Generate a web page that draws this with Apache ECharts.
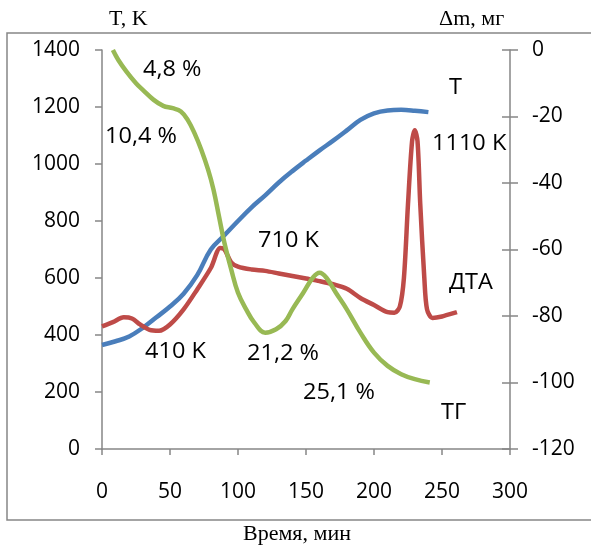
<!DOCTYPE html>
<html><head><meta charset="utf-8">
<script src="https://cdn.jsdelivr.net/npm/echarts@6/dist/echarts.min.js"></script>
<style>html,body{margin:0;padding:0;background:#fff}#c{width:591px;height:545px}</style>
</head><body><div id="c"></div>
<script>
// Temperature T, K (left axis)
const tTime = [0,10,20,30,40,50,60,70,80,90,100,110,120,130,140,150,160,170,180,190,200,210,220,230,240];
const tVals = [365,378,395,425,462,500,545,610,700,750,800,848,890,935,975,1012,1048,1082,1118,1155,1178,1188,1190,1187,1182];
// DTA (left axis scale)
const dtaTime = [0,8,16,22,28,35,42,50,60,70,80,87,90,95,100,110,120,130,140,150,160,170,180,190,200,210,215,219,222,225,228,230,232,234,237,239,243,250,261];
const dtaVals = [430,445,462,458,437,418,415,437,490,560,635,705,700,655,640,630,625,616,607,598,589,578,562,530,505,480,478,500,600,860,1080,1118,1080,860,600,490,460,465,480];
// TG, mg (right axis)
const tgTime = [8,12,18,25,30,38,45,52,58,63,68,73,78,82,86,90,95,100,106,112,120,128,135,140,148,155,160,165,172,180,190,200,210,220,230,241];
const tgVals = [0,-3,-6.5,-10,-12,-15,-16.8,-17.5,-18.5,-21,-25,-30,-36,-42,-50,-58,-66,-73,-78,-82,-85,-84,-81.5,-78,-73,-68.5,-67,-68.5,-73,-78,-85,-91,-95,-97.5,-99,-100];
const xTicks = [0,50,100,150,200,250,300];

const pair = (a,b)=>a.map((v,i)=>[v,b[i]]);
const gray = '#868686';
const F = 'Open Sans';
const chart = echarts.init(document.getElementById('c'));
const ann = (t,x,y)=>({type:'text',x:x,y:y,scaleX:1.12,style:{text:t,x:0,y:0,verticalAlign:'middle',font:'21px "Open Sans"',fill:'#000'}});
const serif = (t,x,y)=>({type:'text',x:x,y:y,style:{text:t,x:0,y:0,verticalAlign:'middle',font:'22px "Liberation Serif"',fill:'#000'}});
const plain = v=>String(v);
chart.setOption({
  animation:false,
  grid:{left:102,right:81,top:50,bottom:96},
  xAxis:{type:'value',min:0,max:300,interval:50,
    axisLine:{show:true,lineStyle:{color:gray,width:1.5}},
    axisTick:{show:true,length:6,lineStyle:{color:gray,width:1.5}},
    axisLabel:{margin:33,color:'#000',fontFamily:F,fontSize:21,formatter:plain},
    splitLine:{show:false}},
  yAxis:[
    {type:'value',min:0,max:1400,interval:200,position:'left',
     axisLine:{show:true,lineStyle:{color:gray,width:1.5}},
     axisTick:{show:true,length:7,lineStyle:{color:gray,width:1.5}},
     axisLabel:{margin:22,color:'#000',fontFamily:F,fontSize:21,formatter:plain},
     splitLine:{show:false}},
    {type:'value',min:-120,max:0,interval:20,position:'right',
     axisLine:{show:true,lineStyle:{color:gray,width:1.5}},
     axisTick:{show:true,length:8,lineStyle:{color:gray,width:1.5}},
     axisLabel:{margin:22,color:'#000',fontFamily:F,fontSize:21,formatter:plain},
     splitLine:{show:false}},
    {type:'value',min:-120,max:0,interval:20,position:'right',
     axisLine:{show:false},
     axisTick:{show:true,inside:true,length:8,lineStyle:{color:gray,width:1.5}},
     axisLabel:{show:false},splitLine:{show:false}}
  ],
  series:[
    {type:'line',yAxisIndex:0,data:pair(tTime,tVals),smooth:0.4,symbol:'none',
     lineStyle:{color:'#4A7EBB',width:4.5}},
    {type:'line',yAxisIndex:0,data:pair(dtaTime,dtaVals),smooth:0.3,symbol:'none',
     lineStyle:{color:'#BE4B48',width:4.5}},
    {type:'line',yAxisIndex:1,data:pair(tgTime,tgVals),smooth:0.4,symbol:'none',
     lineStyle:{color:'#98B954',width:4.5}}
  ],
  graphic:[
    {type:'rect',shape:{x:7,y:33,width:600,height:487},style:{fill:'none',stroke:gray,lineWidth:1.5},silent:true},
    serif('T, K',109,19),
    serif('\u0394m, мг',439,19),
    serif('Время, мин',243,534),
    ann('4,8 %',143,70),
    ann('10,4 %',105,137),
    ann('Т',449,88),
    ann('1110 K',432,144),
    ann('710 K',258,241),
    ann('ДТА',449,283),
    ann('410 K',145,352),
    ann('21,2 %',247,354),
    ann('25,1 %',303,393),
    ann('ТГ',441,413)
  ]
});
</script></body></html>
